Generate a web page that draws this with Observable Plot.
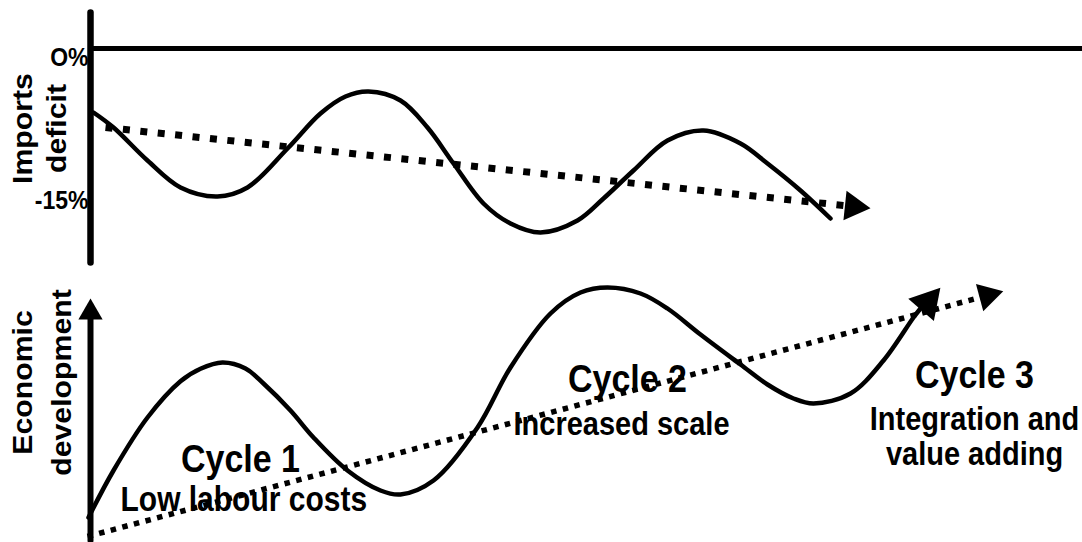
<!DOCTYPE html>
<html><head><meta charset="utf-8">
<script src="https://cdn.jsdelivr.net/npm/d3@7"></script>
<script src="https://cdn.jsdelivr.net/npm/@observablehq/plot@0.6"></script>
<style>body{margin:0;background:#fff} #chart svg{display:block}</style>
</head><body><div id="chart"></div>
<script>
const FONT = '"Liberation Sans", Arial, Helvetica, sans-serif';

// ---------- Top panel: imports deficit (%) over time (t, arbitrary units) ----------
const importsT   = [0.3, 2.3, 5.7, 9, 12.7, 15.7, 19.7, 23, 25.5, 27.8, 31, 33.7, 36.3, 39.3, 42, 45, 48.7, 51.3, 54.3, 57.7, 61.3, 65, 67.7, 71, 74];
const importsPct = [-6.4, -7.9, -11.2, -13.9, -14.8, -13.9, -10, -6.5, -4.8, -4.3, -5.2, -7.9, -11.5, -15.5, -17.5, -18.4, -17.2, -15, -12.2, -9.2, -8.2, -9.5, -11.5, -14.2, -17];
const importsTrendT   = [1.5, 76.3];
const importsTrendPct = [-7.9, -15.8];
const importsAxisPct  = [3.6, -21.4];
const importsZeroT    = [0, 99.2];
const importsTicks      = [0, -15];
const importsTickLabels = ["O%", "-15%"];
const importsTitle = ["Imports", "deficit"];
const importsTitleT = [-6.7, -3.3];

// ---------- Bottom panel: economic development (index) ----------
const devT     = [-0.2, 2.3, 5.7, 9, 11, 13.2, 15.5, 17.3, 20, 22.3, 25.7, 29, 31, 34.3, 38.7, 42, 46, 49, 51.7, 55, 57.7, 61, 65, 67.7, 70.3, 72.3, 76, 79.3, 82.3, 83];
const devValue = [8, 26.8, 48, 62.5, 67.5, 70, 67.6, 61.6, 50.8, 40, 26.8, 18.8, 17.2, 22.8, 44, 68, 89.6, 98, 100, 97.6, 91.6, 81.2, 69.2, 61.2, 55.6, 53.6, 57.6, 70.8, 88, 91.6];
const devHeadT = [83.7];
const devHeadValue = [94];
const devTrendT     = [-0.3, 89.7];
const devTrendValue = [0.4, 96.8];
const devAxisValue  = [-1.2, 88];
const devAxisHeadValue = [90];
const devTitle = ["Economic", "development"];
const devTitleT = [-6.7, -2.8];

const cycleNames = ["Cycle 1", "Cycle 2", "Cycle 3"];
const cycleT     = [15, 53.7, 88.4];
const cycleValue = [31.4, 63.4, 64.8];
const driverText  = ["Low labour costs", "Increased scale", "Integration and", "value adding"];
const driverT     = [3, 42.3, 88.4, 88.4];
const driverValue = [15, 45.2, 47.2, 33.4];
const driverSize  = [30, 29, 29, 29];
const driverAnchor = ["start", "start", "middle", "middle"];

const zip = (a, b) => a.map((v, i) => ({t: v, v: b[i]}));
const xScale = {domain: [-9, 99.2], range: [0, 1082]};
const common = {width: 1082, marginTop: 0, marginRight: 0, marginBottom: 0, marginLeft: 0,
  style: {background: "#fff", fontFamily: FONT, overflow: "visible"}};
const bold = {fontWeight: "bold", fill: "#000"};

const topPanel = Plot.plot({
  ...common, height: 265,
  x: {...xScale, axis: null},
  y: {domain: [-21.7, 4.8], axis: null},
  marks: [
    Plot.line(importsAxisPct.map(v => ({t: 0, v})), {x: "t", y: "v", strokeWidth: 6.5, stroke: "#000"}),
    Plot.line(importsZeroT.map(t => ({t, v: 0})), {x: "t", y: "v", strokeWidth: 5, stroke: "#000"}),
    Plot.text([importsTicks[0]], {x: () => -0.2, y: d => d, text: () => importsTickLabels[0], textAnchor: "end", dy: 9, fontSize: 23, ...bold}),
    Plot.text([importsTicks[1]], {x: () => -0.2, y: d => d, text: () => importsTickLabels[1], textAnchor: "end", dy: 2, fontSize: 23, ...bold}),
    Plot.text(importsTitle, {x: (d, i) => importsTitleT[i], y: () => -8, text: d => d, rotate: -90, fontSize: 27, ...bold}),
    Plot.line(zip(importsT, importsPct), {x: "t", y: "v", curve: "catmull-rom", strokeWidth: 4.5, stroke: "#000"}),
    Plot.line(zip(importsTrendT, importsTrendPct), {x: "t", y: "v", strokeWidth: 7, stroke: "#000", strokeDasharray: "7,10.5", strokeLinecap: "butt"}),
    Plot.dot([{t: importsTrendT[1], v: importsTrendPct[1]}], {x: "t", y: "v", symbol: "triangle", r: 11, rotate: 96, fill: "#000", stroke: "none"})
  ]
});

const bottomPanel = Plot.plot({
  ...common, height: 277,
  x: {...xScale, axis: null},
  y: {domain: [-2, 108.8], axis: null},
  marks: [
    Plot.line(devAxisValue.map(v => ({t: 0, v})), {x: "t", y: "v", strokeWidth: 6, stroke: "#000"}),
    Plot.dot(devAxisHeadValue.map(v => ({t: 0, v})), {x: "t", y: "v", symbol: "triangle", r: 9, fill: "#000", stroke: "none"}),
    Plot.text(devTitle, {x: (d, i) => devTitleT[i], y: () => 62, text: d => d, rotate: -90, fontSize: 27, ...bold}),
    Plot.text(cycleNames, {x: (d, i) => cycleT[i], y: (d, i) => cycleValue[i], text: d => d, fontSize: 34, ...bold}),
    ...driverText.map((txt, i) => Plot.text([txt], {x: () => driverT[i], y: () => driverValue[i], text: d => d, textAnchor: driverAnchor[i], fontSize: driverSize[i], ...bold})),
    Plot.line(zip(devT, devValue), {x: "t", y: "v", curve: "catmull-rom", strokeWidth: 4.5, stroke: "#000"}),
    Plot.dot(devHeadT.map((t, i) => ({t, v: devHeadValue[i]})), {x: "t", y: "v", symbol: "triangle", r: 12.6, rotate: 41, fill: "#000", stroke: "none"}),
    Plot.line(zip(devTrendT, devTrendValue), {x: "t", y: "v", strokeWidth: 5.5, stroke: "#000", strokeDasharray: "5.5,6.5", strokeLinecap: "butt"}),
    Plot.dot([{t: devTrendT[1], v: devTrendValue[1]}], {x: "t", y: "v", symbol: "triangle", r: 10.5, rotate: 75, fill: "#000", stroke: "none"})
  ]
});

// The reference lettering is drawn slightly taller than the font's natural proportions:
// append a stretch, in each text's own coordinates, after Plot's translate/rotate.
function stretchText(svg, sH, sR) {
  svg.querySelectorAll("text").forEach(t => {
    const tr = t.getAttribute("transform") || "";
    const rotated = /rotate/.test(tr);
    const s = rotated ? `scale(${sR},1)` : `scale(1,${sH})`;
    t.setAttribute("transform", `${tr} ${s}`.trim());
  });
}
stretchText(topPanel, 1.15, 1.12);
stretchText(bottomPanel, 1.15, 1.12);

const el = document.getElementById("chart");
el.appendChild(topPanel);
el.appendChild(bottomPanel);
</script>
</body></html>
